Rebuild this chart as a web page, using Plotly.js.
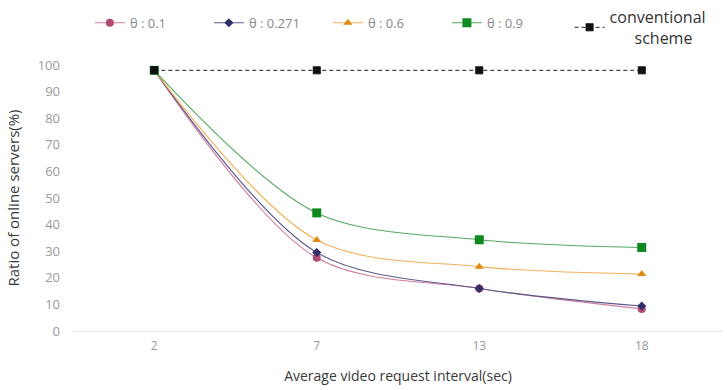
<!DOCTYPE html>
<html><head><meta charset="utf-8">
<script src="https://cdn.plot.ly/plotly-3.0.1.min.js"></script>
<style>body{margin:0;background:#fff}#c{width:727px;height:390px}</style>
</head><body><div id="c"></div>
<script>
const categories = ['2','7','13','18'];
const names = ['θ : 0.1','θ : 0.271','θ : 0.6','θ : 0.9',
  'conventional<br>\u00a0\u00a0\u00a0\u00a0\u00a0\u00a0scheme'];
const theta01 = [98, 27.5, 16, 8.3];
const theta0271 = [98, 29.5, 16, 9.4];
const theta06 = [98, 34.2, 24.2, 21.4];
const theta09 = [98, 44.4, 34.3, 31.4];
const conventional = [98, 98, 98, 98];
const xTitle = 'Average video request interval(sec)';
const yTitle = 'Ratio of online servers(%)';

const series = [theta01, theta0271, theta06, theta09];
const colors = ['#cf7c9c','#5c5c8c','#f0b25a','#55a965'];
const markerColors = ['#b24a74','#2f2f6b','#e08a10','#0f8a1f'];
const symbols = ['circle','diamond','triangle-up','square'];
const sizes = [8,7,8,9];

const traces = series.map((s,i)=>({
  x: categories, y: s, name: names[i], type:'scatter', mode:'lines+markers',
  line:{color:colors[i], width:1.1, shape:'spline', smoothing:0.9},
  marker:{color:markerColors[i], symbol:symbols[i], size:sizes[i]}
}));
traces.push({
  x: categories, y: conventional, name: names[4], type:'scatter', mode:'lines+markers',
  legend:'legend2',
  line:{color:'#222', width:1, dash:'4px,3px'},
  marker:{color:'#111', symbol:'square-x', size:7, line:{color:'#111', width:1}}
});

const layout = {
  width:727, height:390,
  margin:{l:73, r:4, t:65, b:59},
  paper_bgcolor:'#fff', plot_bgcolor:'#fff',
  font:{family:'Open Sans, Noto Sans, sans-serif'},
  showlegend:true,
  legend:{orientation:'h', x:0.026, y:1.215, xanchor:'left', yanchor:'top',
    entrywidth:74, entrywidthmode:'pixels', itemwidth:30,
    font:{size:13, color:'#8a8a8a'}, bgcolor:'rgba(0,0,0,0)'},
  legend2:{orientation:'h', x:0.764, yref:'container', y:1.0, xanchor:'left', yanchor:'top',
    itemwidth:30, font:{size:16, color:'#333'}, bgcolor:'rgba(0,0,0,0)'},
  xaxis:{type:'category', range:[-0.5,3.5], showgrid:false, zeroline:false,
    showline:true, linecolor:'#e6e6e6', linewidth:1, ticks:'',
    tickfont:{size:12, color:'#9a9a9a'}, ticklabelstandoff:4,
    title:{text:xTitle, font:{size:14, color:'#3a3a3a'}, standoff:17}},
  yaxis:{range:[0,100], dtick:10, showgrid:false, zeroline:false, showline:false,
    tickfont:{size:13, color:'#9a9a9a'}, ticklabelstandoff:12,
    title:{text:yTitle, font:{size:15, color:'#3a3a3a'}, standoff:14}}
};
Plotly.newPlot('c', traces, layout, {displayModeBar:false, staticPlot:true});
</script></body></html>
